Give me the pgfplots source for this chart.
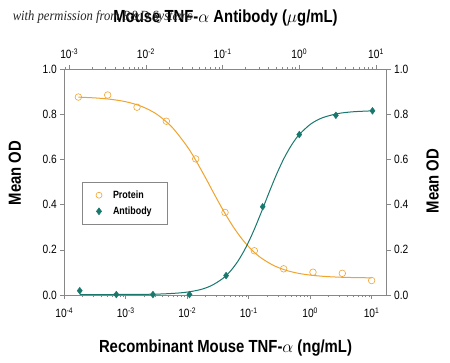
\documentclass[border=0pt]{standalone}
\usepackage{fontspec}
\setmainfont{Liberation Sans}[FakeStretch=0.85]
\newfontfamily\wmfont{Liberation Serif}[FakeStretch=0.9]
\usepackage{pgfplots}
\pgfplotsset{compat=1.18}
\definecolor{org}{RGB}{240,163,45}
\definecolor{tealc}{RGB}{25,120,110}
\definecolor{axgray}{RGB}{135,135,135}
\begin{document}
\begin{tikzpicture}
\pgfplotsset{
 common/.style={
  scale only axis, width=322.4pt, height=225.7pt,
  at={(0,0)}, anchor=south west,
  ymin=0, ymax=1,
  axis line style={axgray, line width=0.8pt},
  tick style={axgray, line width=0.6pt},
  major tick length=4pt, minor tick length=2.5pt,
  tick align=outside,
  ticklabel style={font=\fontsize{12}{12}\selectfont, text=black},
  xticklabel={10\textsuperscript{\pgfmathparse{int(round(\tick/ln(10)))}\pgfmathresult}},
  ytick={0,0.2,0.4,0.6,0.8,1},
  yticklabels={0.0,0.2,0.4,0.6,0.8,1.0},
  label style={font=\bfseries\fontsize{17.5}{18}\selectfont},
 }
}
\begin{axis}[xmode=log, common, xmin=1e-4, xmax=17.58,
  axis x line*=bottom, axis y line*=left,
  xticklabel style={yshift=-5pt},
  xlabel={Recombinant Mouse TNF-$\alpha$ (ng/mL)},
  ylabel={Mean OD},
  xlabel style={at={(axis description cs:0.5,-0.235)}, anchor=center},
  ylabel style={at={(axis description cs:-0.153,0.54)}, anchor=center},
]
\addplot[org, line width=1pt, smooth] coordinates {
(1.698e-4,0.8765) (3.162e-4,0.8732) (5.623e-4,0.8672) (1e-3,0.8563)
(1.778e-3,0.8365) (3.162e-3,0.8018) (5.623e-3,0.7443) (1e-2,0.6575)
(1.413e-2,0.5915) (1.995e-2,0.5182) (2.818e-2,0.4419) (3.981e-2,0.3682)
(5.623e-2,0.3016) (7.943e-2,0.2451) (0.1122,0.1997) (0.1585,0.1646)
(0.2512,0.1315) (0.3981,0.1100) (0.6310,0.0965) (1,0.0881)
(1.778,0.0820) (3.162,0.0787) (5.623,0.0770) (10,0.0761)};
\addplot[org, only marks, mark=o, mark size=3.3pt, line width=0.6pt] coordinates {
(1.694e-4,0.877) (5.081e-4,0.886) (1.524e-3,0.832) (4.572e-3,0.770)
(1.372e-2,0.603) (4.115e-2,0.366) (0.1235,0.196) (0.3704,0.116)
(1.111,0.101) (3.333,0.096) (10,0.064)};
\end{axis}
\begin{axis}[xmode=log, common, xmin=8.63e-4, xmax=13.8,
  axis x line*=top, axis y line*=right,
  xticklabel style={yshift=3pt},
  xlabel={Mouse TNF-$\alpha$ Antibody ($\mu$g/mL)},
  ylabel={Mean OD},
  xlabel style={at={(axis description cs:0.5,1.225)}, anchor=center},
  ylabel style={at={(axis description cs:1.142,0.505)}, anchor=center},
  legend style={at={(axis description cs:0.054,0.499)}, anchor=north west,
    draw=axgray, line width=0.6pt, font=\bfseries\fontsize{10.5}{12}\selectfont,
    inner xsep=14pt, inner ysep=6pt, row sep=3pt, cells={anchor=west},
    /tikz/every odd column/.append style={column sep=9pt}},
]
\addlegendimage{only marks, mark=o, org, mark size=3pt, line width=0.6pt}
\addlegendentry{Protein}
\addplot[tealc, line width=1pt, smooth, forget plot] coordinates {
(1.380e-3,0.0020) (3.162e-3,0.0021) (0.01,0.0031) (0.01778,0.0052)
(0.03162,0.0111) (0.05012,0.0230) (0.07079,0.0409) (0.1,0.0725)
(0.1259,0.1050) (0.1585,0.1498) (0.1995,0.2083) (0.2512,0.2803)
(0.3162,0.3626) (0.3981,0.4489) (0.5012,0.5319) (0.6310,0.6051)
(0.7943,0.6650) (1,0.7110) (1.413,0.7577) (1.995,0.7850)
(3.162,0.8036) (5.012,0.8118) (8.995,0.8159)};
\addplot[tealc, only marks, mark=diamond*, mark size=3.4pt] coordinates {
(1.372e-3,0.019) (4.115e-3,0.002) (1.235e-2,0.002) (3.704e-2,0.002)
(0.1111,0.086) (0.3333,0.391) (1,0.711) (3,0.796) (9,0.816)};
\addlegendentry{Antibody}
\end{axis}
\node[font=\wmfont\itshape\fontsize{14}{14}\selectfont, anchor=west, text=black!85] at (-55pt,278pt) {with permission from R\&D Systems};
\pgfresetboundingbox
\useasboundingbox (-64.3pt,-68pt) rectangle (385.7pt,295pt);
\end{tikzpicture}
\end{document}
